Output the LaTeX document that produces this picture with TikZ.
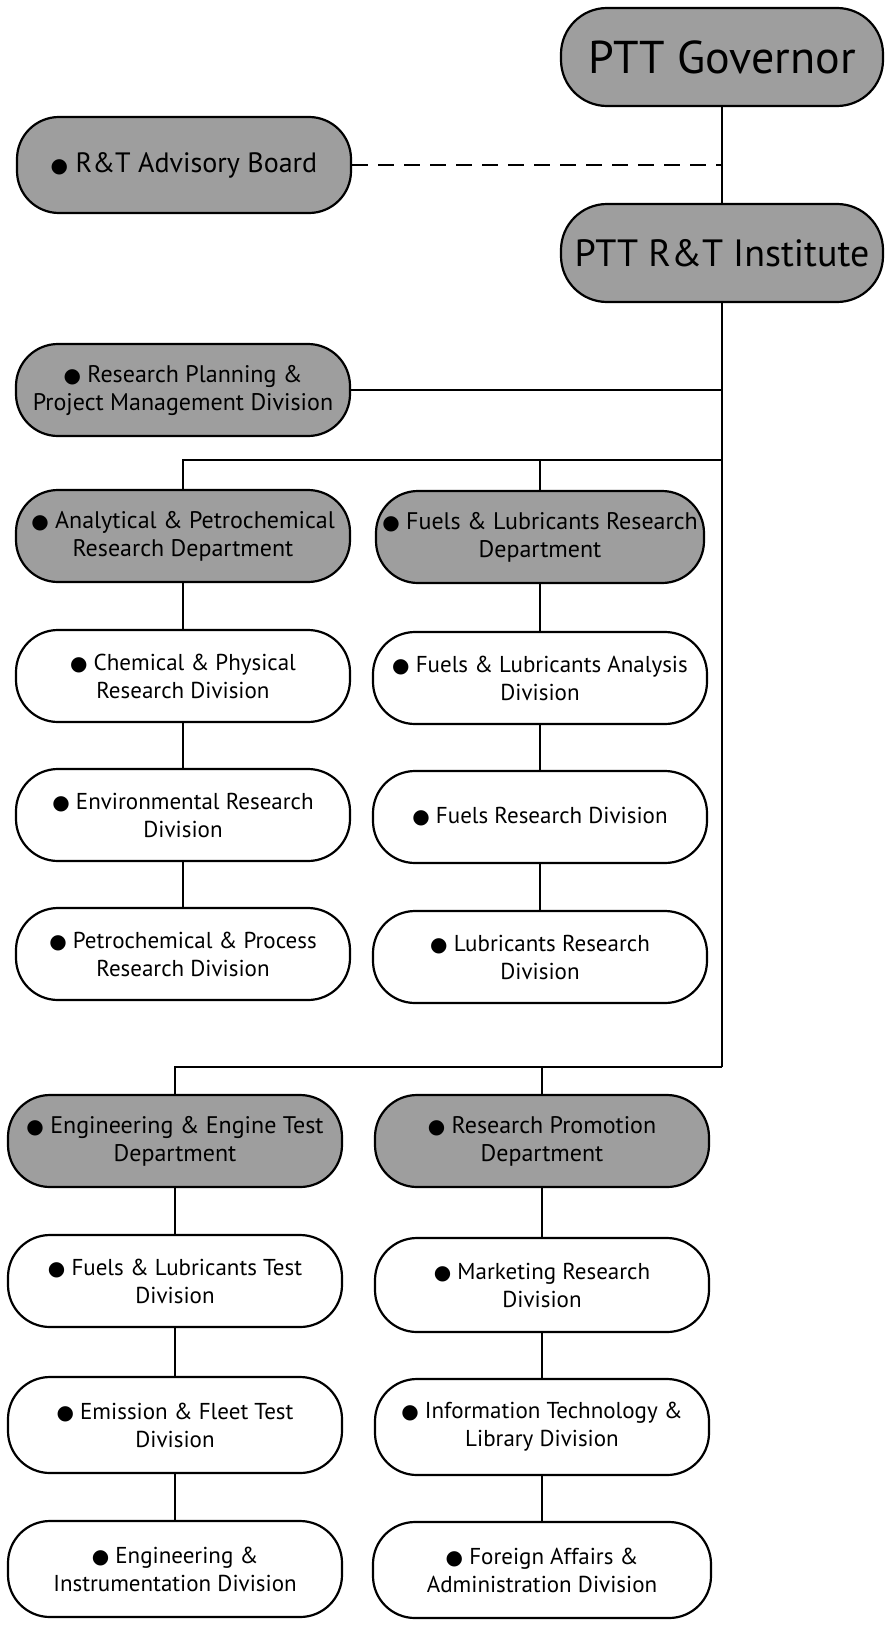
\documentclass[tikz,border=0pt]{standalone}
\usepackage{fontspec}
\setmainfont{PT Sans}
\newfontfamily\dotfont{DejaVu Sans}
\newcommand{\blt}{{\dotfont\fontsize{10}{10}\selectfont ●}\ }

\begin{document}
\begin{tikzpicture}[x=0.5pt, y=-0.5pt,
    unit/.style={draw, line width=1.1pt, rounded corners=21pt, align=center, inner sep=2pt,
        minimum width=167pt, minimum height=46pt},
    divbox/.style={unit, fill=white, font=\fontsize{11.5}{14}\selectfont},
    deptbox/.style={unit, fill=black!38, font=\fontsize{12}{14}\selectfont},
    topbox/.style={deptbox, minimum width=161pt, minimum height=49pt, rounded corners=23pt},
    link/.style={line width=0.7pt}]
    \useasboundingbox (0,0) rectangle (885,1632);

    \node[topbox, font=\fontsize{23}{26}\selectfont] (gov) at (722,57) {PTT Governor};
    \node[topbox, font=\fontsize{19}{22}\selectfont] (inst) at (722,253) {PTT R\&T Institute};
    \node[deptbox, font=\fontsize{14}{16}\selectfont, minimum height=48pt] (board) at (184,165) {\blt R\&T Advisory Board};
    \node[deptbox] (plan) at (183,390) {\blt Research Planning \&\\Project Management Division};

    \node[deptbox] (anal) at (183,536) {\blt Analytical \& Petrochemical\\Research Department};
    \node[deptbox, minimum width=164pt] (fuel) at (540,537) {\blt Fuels \& Lubricants Research\\Department};
    \node[divbox] (chem) at (183,676) {\blt Chemical \& Physical\\Research Division};
    \node[divbox] (env) at (183,815) {\blt Environmental Research\\Division};
    \node[divbox] (petro) at (183,954) {\blt Petrochemical \& Process\\Research Division};
    \node[divbox] (flan) at (540,678) {\blt Fuels \& Lubricants Analysis\\Division};
    \node[divbox] (fres) at (540,817) {\blt Fuels Research Division};
    \node[divbox] (lubr) at (540,957) {\blt Lubricants Research\\Division};

    \node[deptbox] (engd) at (175,1141) {\blt Engineering \& Engine Test\\Department};
    \node[deptbox] (prom) at (542,1141) {\blt Research Promotion\\Department};
    \node[divbox] (flt) at (175,1281) {\blt Fuels \& Lubricants Test\\Division};
    \node[divbox, minimum height=48pt] (emis) at (175,1425) {\blt Emission \& Fleet Test\\Division};
    \node[divbox, minimum height=48pt] (eins) at (175,1569) {\blt Engineering \&\\Instrumentation Division};
    \node[divbox, minimum height=47pt] (mark) at (542,1285) {\blt Marketing Research\\Division};
    \node[divbox, minimum height=48pt] (itl) at (542,1427) {\blt Information Technology \&\\Library Division};
    \node[divbox, minimum height=48pt, minimum width=169pt] (fora) at (542,1570) {\blt Foreign Affairs \&\\Administration Division};

    \coordinate (dj) at (gov.south |- board.east);
    \coordinate (upper) at (722,460);
    \coordinate (lower) at (722,1067);

    \draw[link] (gov) -- (inst);
    \draw[link, dash pattern=on 8pt off 5pt] (board) -- (dj);
    \draw[link] (inst) -- (lower);
    \draw[link] (plan) -- (plan -| lower);
    \draw[link] (upper) -| (anal);
    \draw[link] (upper -| fuel) -- (fuel);
    \draw[link] (lower) -| (engd);
    \draw[link] (lower -| prom) -- (prom);
    \foreach \a/\b in {anal/chem, chem/env, env/petro, fuel/flan, flan/fres, fres/lubr,
        engd/flt, flt/emis, emis/eins, prom/mark, mark/itl, itl/fora}
        \draw[link] (\a) -- (\b);
\end{tikzpicture}
\end{document}
